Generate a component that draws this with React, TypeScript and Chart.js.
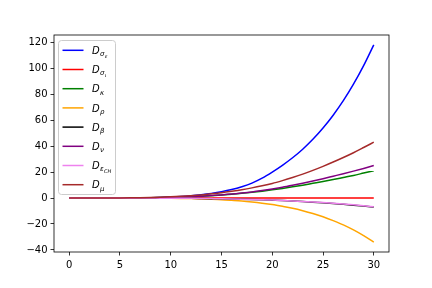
import React, { useEffect, useRef } from "react";
import { Chart, registerables } from "chart.js";

Chart.register(...registerables);

// ---- data ----
const xValues = [0, 1, 2, 3, 4, 5, 6, 7, 8, 9, 10, 11, 12, 13, 14, 15, 16, 17, 18, 19, 20, 21, 22, 23, 24, 25, 26, 27, 28, 29, 30];

const dSigmaEps = [0, 0, 0, 0, 0, 0.03, 0.06, 0.12, 0.25, 0.4, 0.7, 1.1, 1.7, 2.5, 3.5, 4.8, 6.5, 8.7, 11.5, 15.3, 20.0, 25.2, 31, 37.6, 45.2, 53.9, 63.8, 75, 87.7, 102, 118];
const dSigmaIota = [0, 0, 0, 0, 0, 0, 0, 0, 0, 0, 0, 0, 0, 0, 0, 0, 0, 0, 0, 0, 0, 0, 0, 0, 0, 0, 0, 0, 0, 0, 0];
const dKappa = [0, 0, 0, 0, 0.01, 0.03, 0.07, 0.12, 0.2, 0.33, 0.5, 0.7, 1.0, 1.4, 1.8, 2.3, 2.9, 3.6, 4.4, 5.3, 6.3, 7.4, 8.6, 9.9, 11.3, 12.7, 14.2, 15.8, 17.4, 19.2, 21];
const dRho = [0, 0, 0, 0, 0, -0.01, -0.02, -0.04, -0.07, -0.12, -0.19, -0.3, -0.46, -0.67, -0.95, -1.3, -1.8, -2.35, -3.1, -4.0, -5.05, -6.4, -7.9, -9.75, -11.9, -14.4, -17.4, -20.7, -24.6, -29, -34];
const dBeta = [0, 0, 0, 0, 0, -0.01, -0.02, -0.04, -0.06, -0.1, -0.15, -0.21, -0.28, -0.38, -0.49, -0.62, -0.77, -0.96, -1.17, -1.41, -1.7, -2.0, -2.35, -2.75, -3.2, -3.7, -4.25, -4.85, -5.5, -6.2, -7.0];
const dNu = [0, 0, 0, 0, 0.01, 0.03, 0.07, 0.13, 0.22, 0.35, 0.5, 0.7, 1.0, 1.4, 1.9, 2.4, 3.0, 3.8, 4.7, 5.8, 7.0, 8.3, 9.8, 11.4, 13.1, 14.9, 16.8, 18.7, 20.7, 22.8, 25];
const dEpsCH = [0, 0, 0, 0, 0, -0.01, -0.02, -0.04, -0.06, -0.1, -0.14, -0.2, -0.27, -0.36, -0.47, -0.59, -0.74, -0.92, -1.12, -1.35, -1.62, -1.92, -2.26, -2.64, -3.07, -3.54, -4.06, -4.63, -5.26, -5.95, -6.7];
const dMu = [0, 0, 0, 0.01, 0.04, 0.08, 0.15, 0.25, 0.4, 0.6, 0.9, 1.3, 1.8, 2.4, 3.2, 4.1, 5.2, 6.4, 7.8, 9.4, 11.2, 13.4, 15.8, 18.4, 21.3, 24.4, 27.7, 31.2, 34.9, 38.9, 43];

const seriesValues = [dSigmaEps, dSigmaIota, dKappa, dRho, dBeta, dNu, dEpsCH, dMu];
const seriesColors = ["#0000ff", "#ff0000", "#008000", "#ffa500", "#000000", "#800080", "#ee82ee", "#a52a2a"];
const legendBase = ["D", "D", "D", "D", "D", "D", "D", "D"];
const legendSub = ["σ", "σ", "κ", "ρ", "β", "ν", "ε", "μ"];
const legendSubSub = ["ε", "ι", "", "", "", "", "CH", ""];

const xTicks = [0, 5, 10, 15, 20, 25, 30];
const yTicks = [-40, -20, 0, 20, 40, 60, 80, 100, 120];

const FONT = "'DejaVu Sans', sans-serif";

function fmt(v: number): string {
  return v < 0 ? "\u2212" + String(-v) : String(v);
}

const overlayPlugin = {
  id: "overlay",
  afterDraw(chart: any) {
    const { ctx, chartArea: a } = chart;
    ctx.save();
    // spines
    ctx.strokeStyle = "#000";
    ctx.lineWidth = 0.8;
    ctx.strokeRect(a.left, a.top, a.right - a.left, a.bottom - a.top);

    // legend box
    const bx = a.left + 4.5;
    const by = a.top + 5.5;
    const bw = 57;
    const bh = 154;
    const r = 3;
    ctx.beginPath();
    ctx.moveTo(bx + r, by);
    ctx.lineTo(bx + bw - r, by);
    ctx.quadraticCurveTo(bx + bw, by, bx + bw, by + r);
    ctx.lineTo(bx + bw, by + bh - r);
    ctx.quadraticCurveTo(bx + bw, by + bh, bx + bw - r, by + bh);
    ctx.lineTo(bx + r, by + bh);
    ctx.quadraticCurveTo(bx, by + bh, bx, by + bh - r);
    ctx.lineTo(bx, by + r);
    ctx.quadraticCurveTo(bx, by, bx + r, by);
    ctx.closePath();
    ctx.fillStyle = "rgba(255,255,255,0.8)";
    ctx.fill();
    ctx.strokeStyle = "#cccccc";
    ctx.lineWidth = 1;
    ctx.stroke();

    for (let i = 0; i < seriesValues.length; i++) {
      const y = by + 9.8 + i * 19.2;
      ctx.beginPath();
      ctx.moveTo(bx + 4, y);
      ctx.lineTo(bx + 25, y);
      ctx.strokeStyle = seriesColors[i];
      ctx.lineWidth = 1.5;
      ctx.stroke();

      ctx.fillStyle = "#000";
      ctx.textBaseline = "alphabetic";
      ctx.textAlign = "left";
      let tx = bx + 33.5;
      const base = y + 3.6;
      ctx.font = "italic 10px " + FONT;
      ctx.fillText(legendBase[i], tx, base);
      tx += ctx.measureText(legendBase[i]).width + 0.3;
      ctx.font = "italic 7px " + FONT;
      ctx.fillText(legendSub[i], tx, base + 2.2);
      tx += ctx.measureText(legendSub[i]).width + 0.2;
      if (legendSubSub[i]) {
        ctx.font = "italic 5px " + FONT;
        ctx.fillText(legendSubSub[i], tx, base + 3.8);
      }
    }
    ctx.restore();
  },
};

export default function App() {
  const ref = useRef<HTMLCanvasElement | null>(null);

  useEffect(() => {
    if (!ref.current) return;
    let lo = Infinity;
    let hi = -Infinity;
    seriesValues.forEach((s) => s.forEach((v) => { lo = Math.min(lo, v); hi = Math.max(hi, v); }));
    const yPad = (hi - lo) * 0.05;
    const xPad = (xValues[xValues.length - 1] - xValues[0]) * 0.05;

    const chart = new Chart(ref.current, {
      type: "line",
      data: {
        datasets: seriesValues.map((s, i) => ({
          label: legendBase[i] + legendSub[i] + legendSubSub[i],
          data: s.map((v, j) => ({ x: xValues[j], y: v })),
          borderColor: seriesColors[i],
          backgroundColor: seriesColors[i],
          borderWidth: 1.5,
          pointRadius: 0,
          cubicInterpolationMode: "monotone" as const,
          fill: false,
          order: seriesValues.length - i,
        })),
      },
      options: {
        animation: false,
        responsive: false,
        devicePixelRatio: 1,
        layout: { padding: { top: 35, right: 43, left: 0, bottom: 0 } },
        plugins: { legend: { display: false }, tooltip: { enabled: false } },
        scales: {
          x: {
            type: "linear",
            min: xValues[0] - xPad,
            max: xValues[xValues.length - 1] + xPad,
            border: { display: false },
            grid: { drawOnChartArea: false, drawTicks: true, tickLength: 3.5, color: "#000", tickColor: "#000", lineWidth: 0.8 },
            ticks: { font: { family: FONT, size: 10 }, color: "#000", padding: 4, maxRotation: 0, callback: (v: any) => fmt(Number(v)) },
            afterBuildTicks: (scale: any) => { scale.ticks = xTicks.map((v) => ({ value: v })); },
            afterFit: (scale: any) => { scale.height = 36; },
          },
          y: {
            type: "linear",
            min: lo - yPad,
            max: hi + yPad,
            border: { display: false },
            grid: { drawOnChartArea: false, drawTicks: true, tickLength: 3.5, color: "#000", tickColor: "#000", lineWidth: 0.8 },
            ticks: { font: { family: FONT, size: 10 }, color: "#000", padding: 3, callback: (v: any) => fmt(Number(v)) },
            afterBuildTicks: (scale: any) => { scale.ticks = yTicks.map((v) => ({ value: v })); },
            afterFit: (scale: any) => { scale.width = 54; },
          },
        },
      },
      plugins: [overlayPlugin],
    });
    return () => chart.destroy();
  }, []);

  return (
    <div style={{ position: "absolute", left: 0, top: 0, width: 432, height: 288, background: "#fff" }}>
      <canvas ref={ref} width={432} height={288} style={{ display: "block" }} />
    </div>
  );
}
